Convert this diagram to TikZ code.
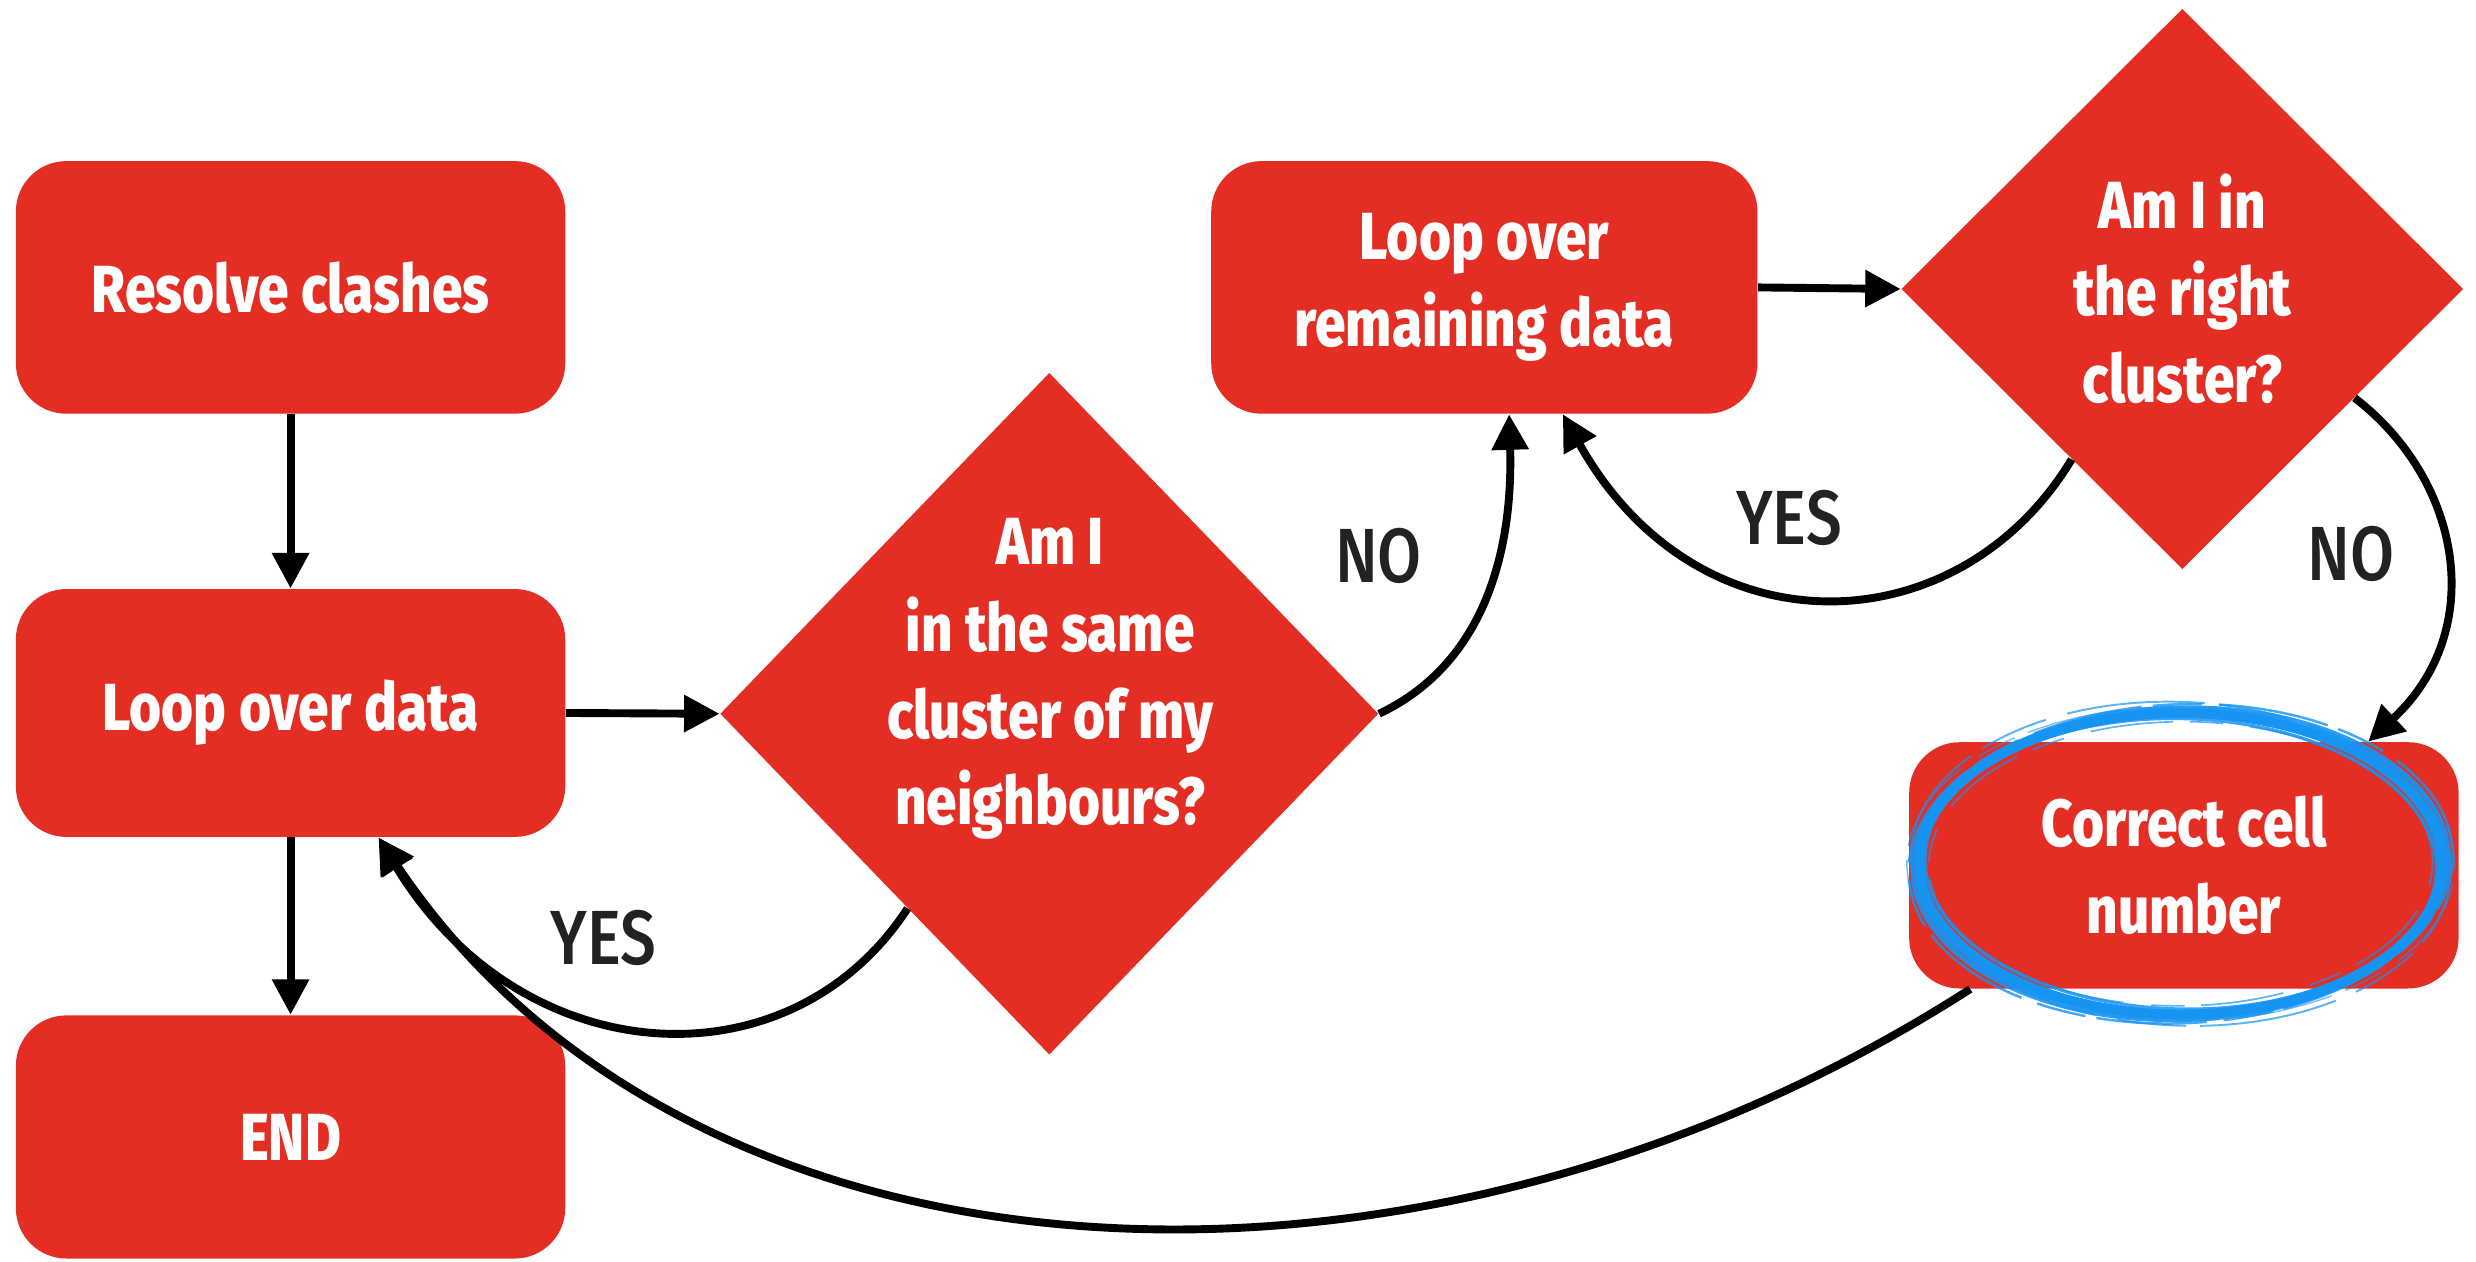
\documentclass[tikz,border=0pt]{standalone}
\usepackage{fontspec}
\setmainfont{Fira Sans}[FakeStretch=0.83]
\newfontfamily\lblfont{Fira Sans Medium}[FakeStretch=0.83]
\newfontfamily\heavyfont{Fira Sans ExtraBold}[FakeStretch=0.825]
\usetikzlibrary{shapes.geometric,arrows.meta,calc}
\definecolor{boxred}{RGB}{228,46,36}
\definecolor{sketchblue}{RGB}{22,148,242}
\definecolor{lblgray}{RGB}{34,34,34}
\newcommand\bxfont{\heavyfont\fontsize{24}{31.3}\selectfont}
\newcommand\lbfont{\lblfont\fontsize{27.7}{30}\selectfont}
\begin{document}
\begin{tikzpicture}[x=0.02cm,y=-0.02cm,
  box/.style={fill=boxred, draw=none, rounded corners=0.64cm, minimum width=6.96cm,
    minimum height=3.2cm, text=white, font=\bxfont, align=center, inner sep=0pt},
  dia/.style={diamond, fill=boxred, draw=none, inner sep=0pt, text=white, font=\bxfont, align=center},
  dtext/.style={text=white, font=\bxfont, align=center, inner sep=0pt},
  lab/.style={text=lblgray, font=\lbfont, inner sep=0pt},
  arr/.style={line width=0.1cm, -{Triangle[length=0.45cm,width=0.45cm]}},
  sketch/.style={draw=sketchblue}]
\useasboundingbox (0,0) rectangle (1568,799);

% boxes
\node[box] (rc) at (184,182) {Resolve clashes};
\node[box, minimum height=3.14cm] (lod) at (184,451.5) {Loop over data};
\node[box, minimum height=3.08cm] (endb) at (184,720) {END};
\node[box, minimum width=6.92cm] (rem) at (940,182) {Loop over\\remaining data};
\node[box, minimum height=3.12cm] (ccn) at (1383,548) {Correct cell\\number};

% diamonds
\node[dia, minimum width=8.34cm, minimum height=8.64cm] (d1) at (664.5,452) {};
\node[dtext] (d1t) at (665,430) {Am I\\in the same\\cluster of my\\neighbours?};
\node[dia, minimum width=7.12cm, minimum height=7.1cm] (d2) at (1382,183) {Am I in\\the right\\cluster?};

% sketchy highlight
\begin{scope}[shift={(1381,547)}]
  \draw[sketch, line width=3.6pt] (0,0) ellipse [x radius=3.31cm, y radius=1.91cm];
  \draw[sketch, line width=2.0pt, opacity=0.9, rotate=1.5] (0,0) ellipse [x radius=3.39cm, y radius=1.97cm];
  \draw[sketch, line width=1.2pt, opacity=0.85, rotate=-1.5] (0,0) ellipse [x radius=3.24cm, y radius=1.84cm];
  \draw[sketch, line width=0.9pt, opacity=0.8, rotate=2.5, dash pattern=on 40pt off 6pt on 18pt off 4pt] (0,0) ellipse [x radius=3.45cm, y radius=2.02cm];
  \draw[sketch, line width=0.7pt, opacity=0.7, rotate=-2.5, dash pattern=on 25pt off 5pt on 50pt off 8pt] (0,0) ellipse [x radius=3.42cm, y radius=2.05cm];
  \draw[sketch, line width=0.6pt, opacity=0.7, rotate=0.5, dash pattern=on 30pt off 10pt on 12pt off 6pt] (0,0) ellipse [x radius=3.19cm, y radius=1.80cm];
  \draw[sketch, line width=0.5pt, opacity=0.6, rotate=-0.5, dash pattern=on 15pt off 7pt on 35pt off 5pt] (0,0) ellipse [x radius=3.47cm, y radius=1.99cm];
\end{scope}

% straight connectors
\draw[arr] (rc) -- (lod);
\draw[arr] (lod) -- (endb);
\draw[arr] (lod.east) -- (d1.west);
\draw[arr] (rem.east) -- (d2.west);

% curved connectors
\draw[arr] (d1.east) .. controls (945,418) and (958,340) .. ($(rem.south west)+(189,0)$);
\draw[arr] ($(d1.west)!0.57!(d1.south)$) .. controls (500,690) and (330,680) .. ($(lod.south west)+(230,0)$);
\draw[arr] ($(ccn.south west)+(39,0)$) .. controls (900,850) and (440,830) .. ($(lod.south west)+(230,0)$);
\draw[arr] ($(d2.west)!0.607!(d2.south)$) .. controls (1240,410) and (1075,415) .. ($(rem.south west)+(223,0)$);
\draw[arr] ($(d2.east)!0.388!(d2.south)$) .. controls (1560,305) and (1575,400) .. ($(ccn.north west)+(291,0)$);

% labels
\node[lab] (no1) at (873,352) {NO};
\node[lab] (yes1) at (382,594) {YES};
\node[lab] (yes2) at (1133,328) {YES};
\node[lab] (no2) at (1489,351) {NO};
\end{tikzpicture}
\end{document}
